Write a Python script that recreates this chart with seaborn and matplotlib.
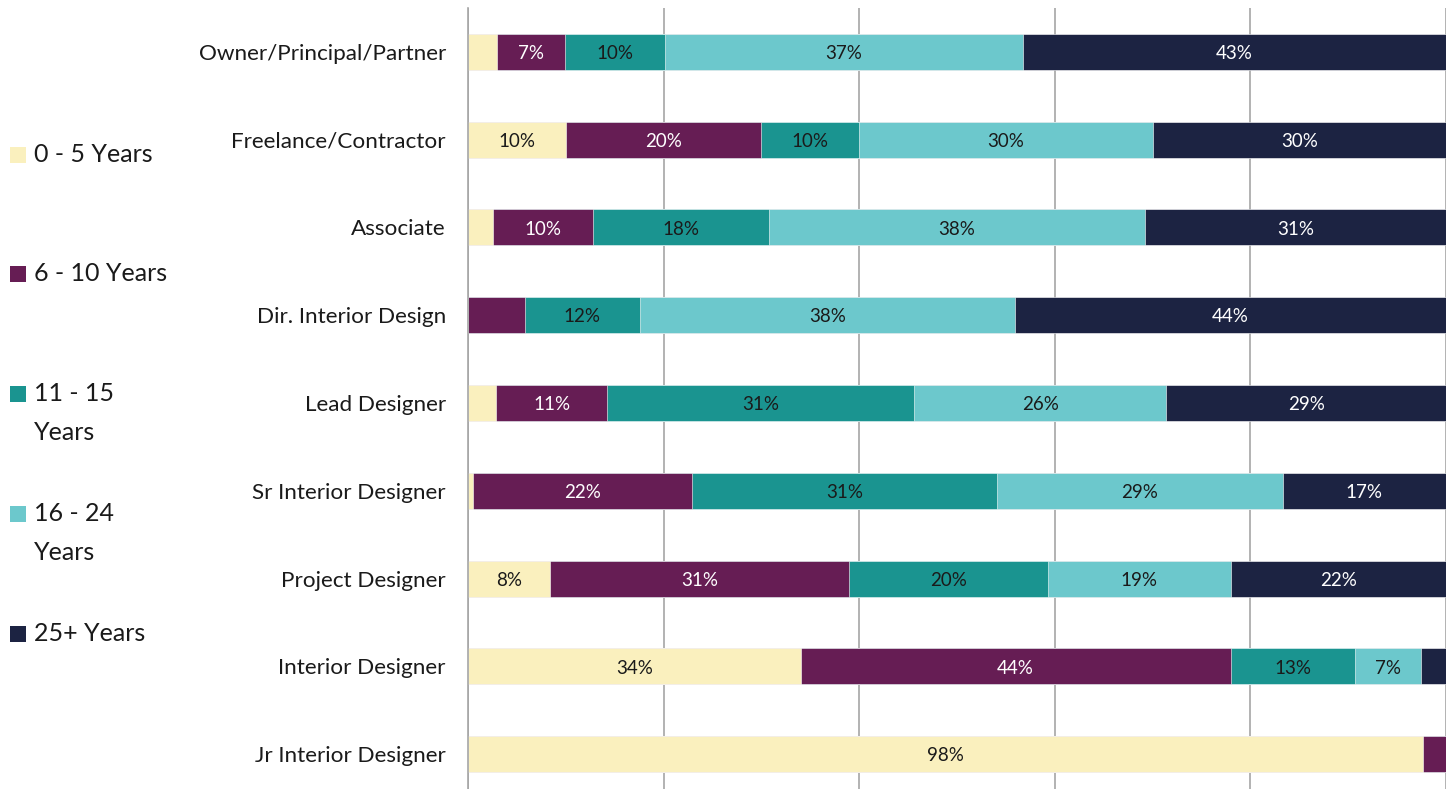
import matplotlib
matplotlib.use("Agg")
import matplotlib.pyplot as plt
from matplotlib.patches import Rectangle
import numpy as np
import pandas as pd
import seaborn as sns

# Survey shares (%) of years of experience by job title
roles = [
    "Owner/Principal/Partner",
    "Freelance/Contractor",
    "Associate",
    "Dir. Interior Design",
    "Lead Designer",
    "Sr Interior Designer",
    "Project Designer",
    "Interior Designer",
    "Jr Interior Designer",
]
groups = ["0 - 5 Years", "6 - 10 Years", "11 - 15 Years", "16 - 24 Years", "25+ Years"]
legend_labels = ["0 - 5 Years", "6 - 10 Years", "11 - 15\nYears", "16 - 24\nYears", "25+ Years"]

yrs_0_5 = [3, 10, 2.6, 0, 2.9, 0.5, 8.4, 34, 97.6]
yrs_6_10 = [6.9, 20, 10.2, 5.8, 11.3, 22.4, 30.6, 44, 2.4]
yrs_11_15 = [10.2, 10, 18, 11.8, 31.4, 31.2, 20.3, 12.7, 0]
yrs_16_24 = [36.6, 30, 38.4, 38.3, 25.8, 29.2, 18.7, 6.7, 0]
yrs_25_plus = [43.3, 30, 30.8, 44.1, 28.6, 16.7, 22.0, 2.6, 0]

colors = ["#FAF0BE", "#661D54", "#1A9490", "#6CC8CC", "#1C2342"]
text_colors = ["#1a1a1a", "white", "#1a1a1a", "#1a1a1a", "white"]

sns.set_style("white")
plt.rcParams["font.family"] = ["Lato", "DejaVu Sans"]

series = [yrs_0_5, yrs_6_10, yrs_11_15, yrs_16_24, yrs_25_plus]
df = pd.DataFrame({g: v for g, v in zip(groups, series)}, index=roles)
cum = df.cumsum(axis=1)

fig = plt.figure(figsize=(14.56, 7.89), dpi=100)
W, H = 1456, 789
ax = fig.add_axes([468 / W, -9 / H, 978 / W, (789 - 8 + 9) / H])

# stacked bars: draw running totals from the outermost segment inward
for k in range(len(groups) - 1, -1, -1):
    data = pd.DataFrame({"role": roles, "total": cum[groups[k]].values})
    sns.barplot(data=data, x="total", y="role", orient="h", color=colors[k],
                saturation=1, width=0.41, ax=ax, edgecolor="white", linewidth=0.4,
                zorder=2)

# segment value labels
for k, g in enumerate(groups):
    for i, r in enumerate(roles):
        v = df.loc[r, g]
        if v >= 6.5:
            x = cum.loc[r, g] - v / 2
            ax.text(x, i + 0.02, f"{round(v):d}%", ha="center", va="center",
                    fontsize=13.5, color=text_colors[k], zorder=3)

ax.set_xlim(0, 100)
ax.set_ylim(len(roles) - 0.5, -0.5)
ax.set_xlabel("")
ax.set_ylabel("")
ax.set_xticks([0, 20, 40, 60, 80, 100])
ax.set_xticklabels([])
ax.tick_params(axis="x", length=0)
ax.xaxis.grid(True, color="#A6A6A6", linewidth=1.2, zorder=0)
ax.set_axisbelow(True)

ax.set_yticks(range(len(roles)))
ax.set_yticklabels(roles, fontsize=16.2, color="#1a1a1a")
ax.tick_params(axis="y", which="major", length=0, pad=16)
ax.set_yticks(np.arange(-0.5, len(roles) + 0.5, 1), minor=True)
ax.tick_params(axis="y", which="minor", length=8, width=1.2, color="#A6A6A6", direction="out")

for side in ["top", "right", "bottom"]:
    ax.spines[side].set_visible(False)
ax.spines["left"].set_color("#A6A6A6")
ax.spines["left"].set_linewidth(1.2)

# legend column on the left
legend_y = [155, 274, 394, 514, 634]
for lbl, c, yc in zip(legend_labels, colors, legend_y):
    fig.add_artist(Rectangle((10 / W, 1 - (yc + 8) / H), 16 / W, 16 / H,
                             transform=fig.transFigure, facecolor=c,
                             edgecolor="none"))
    fig.text(34 / W, 1 - (yc - 12) / H, lbl, ha="left", va="top",
             fontsize=18, color="#1a1a1a", linespacing=1.85)

fig.savefig("out.png", dpi=100)
